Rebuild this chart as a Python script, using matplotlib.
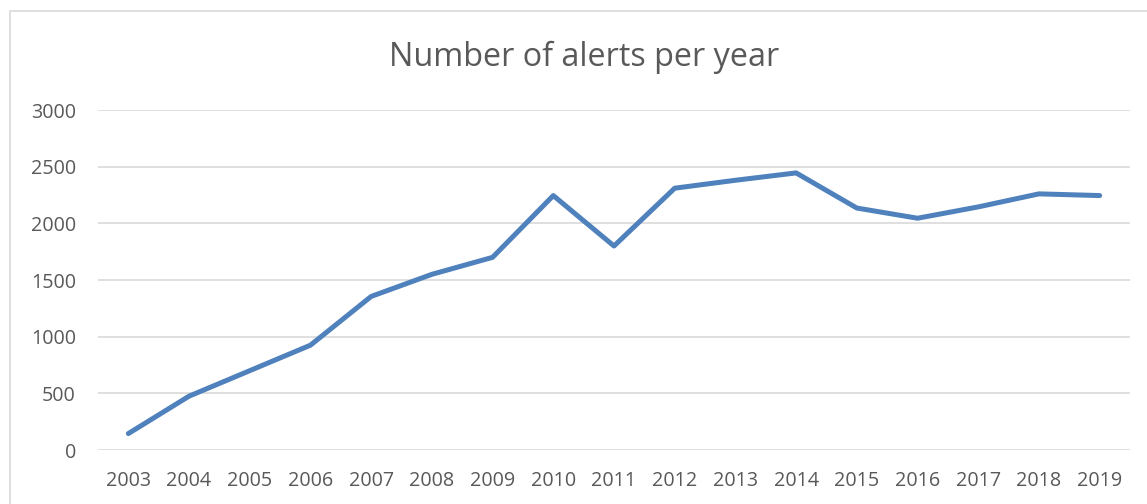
import matplotlib
matplotlib.use("Agg")
import matplotlib.pyplot as plt
from matplotlib.patches import Rectangle

years = ["2003", "2004", "2005", "2006", "2007", "2008", "2009", "2010", "2011",
         "2012", "2013", "2014", "2015", "2016", "2017", "2018", "2019"]
alerts = [145, 475, 700, 925, 1355, 1550, 1700, 2245, 1800,
          2310, 2380, 2445, 2135, 2045, 2145, 2260, 2245]
yticks = [0, 500, 1000, 1500, 2000, 2500, 3000]
title = "Number of alerts per year"

W, H = 1147, 504
plt.rcParams['font.family'] = ['Open Sans', 'DejaVu Sans']
fig = plt.figure(figsize=(W / 100, H / 100), dpi=100)

# chart frame
fig.patches.append(Rectangle((9.5 / W, 0 - 0.1), 1.2, 1 - 11 / H + 0.1,
                             transform=fig.transFigure, fill=False,
                             edgecolor="#d9d9d9", linewidth=1.2))

left, right, top, bottom = 98, 1130, 110, 450
ax = fig.add_axes([left / W, 1 - bottom / H, (right - left) / W, (bottom - top) / H])

x = list(range(len(years)))
ax.plot(x, alerts, color="#4F81BD", linewidth=3.6, solid_capstyle="round",
        solid_joinstyle="round", zorder=3)

ax.set_xlim(-0.5, len(years) - 0.5)
ax.set_ylim(0, 3000)
ax.set_yticks(yticks)
ax.set_xticks(x)
ax.set_xticklabels(years)
ax.grid(axis="y", color="#d9d9d9", linewidth=1.2)
ax.set_axisbelow(True)
for s in ax.spines.values():
    s.set_visible(False)
ax.tick_params(axis="both", length=0, labelsize=14.2, labelcolor="#595959")
ax.tick_params(axis="y", pad=16)
ax.tick_params(axis="x", pad=15)

fig.text(584 / W, 1 - 57 / H, title,
         ha="center", va="center", fontsize=23.3, color="#595959")

fig.savefig("out.png", dpi=100)
